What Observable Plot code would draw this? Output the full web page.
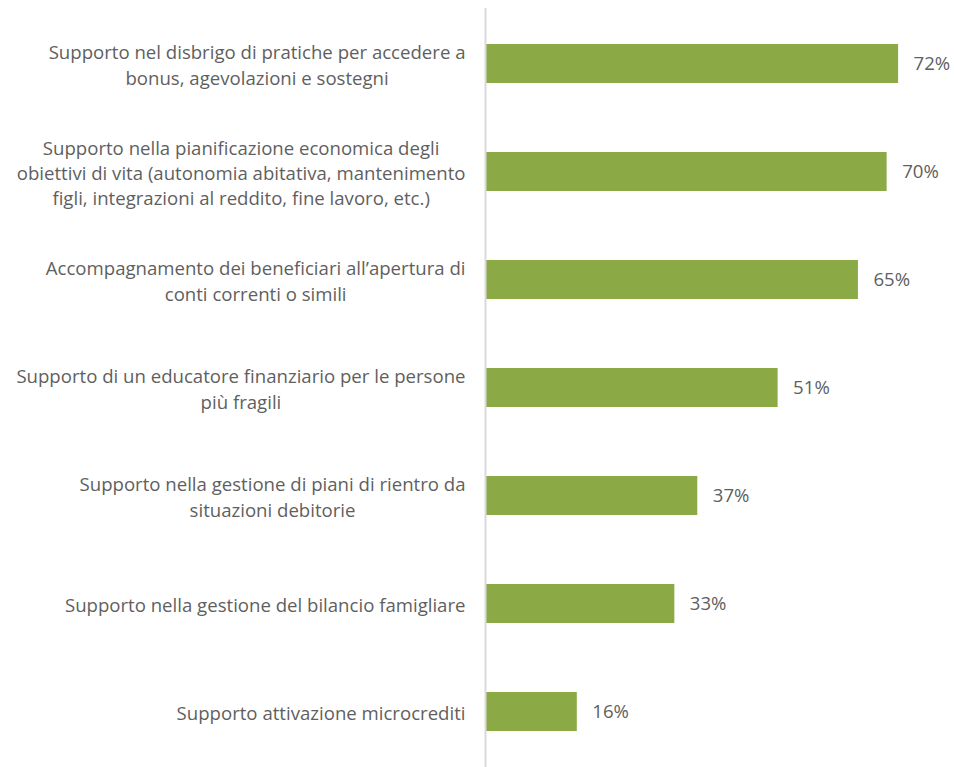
<!DOCTYPE html>
<html>
<head>
<meta charset="utf-8">
<script src="https://cdn.jsdelivr.net/npm/d3@7"></script>
<script src="https://cdn.jsdelivr.net/npm/@observablehq/plot@0.6"></script>
<style>
  html, body { margin: 0; padding: 0; background: #fff; }
  #chart svg { display: block; }
</style>
</head>
<body>
<div id="chart"></div>
<script>
const categories = [
  "Supporto nel disbrigo di pratiche per accedere a\nbonus, agevolazioni e sostegni",
  "Supporto nella pianificazione economica degli\nobiettivi di vita (autonomia abitativa, mantenimento\nfigli, integrazioni al reddito, fine lavoro, etc.)",
  "Accompagnamento dei beneficiari all’apertura di\nconti correnti o simili",
  "Supporto di un educatore finanziario per le persone\npiù fragili",
  "Supporto nella gestione di piani di rientro da\nsituazioni debitorie",
  "Supporto nella gestione del bilancio famigliare",
  "Supporto attivazione microcrediti"
];
const values = [72, 70, 65, 51, 37, 33, 16];

const data = categories.map((c, i) => ({category: c, value: values[i]}));

const FONT = "'Open Sans', sans-serif";
const TEXT = "#5F5F5F";
const FS = 18.6;

const chart = Plot.plot({
  width: 954,
  height: 767,
  marginLeft: 485,
  marginRight: 10,
  marginTop: 8,
  marginBottom: 0,
  style: {fontFamily: FONT, fontSize: FS + "px", color: TEXT, background: "#fff"},
  x: {domain: [0, 80], axis: null},
  y: {domain: categories, paddingInner: 0.64, paddingOuter: 0.32, axis: null},
  marks: [
    Plot.barX(data, {x: "value", y: "category", fill: "#8BAA46"}),
    Plot.ruleX([0], {stroke: "#D9D9D9", strokeWidth: 2}),
    Plot.text(data, {
      x: 0, y: "category", text: "category",
      textAnchor: "end", dx: -20, lineHeight: 1.36,
      fill: TEXT, fontSize: FS, className: "cat-label"
    }),
    Plot.text(data, {
      x: "value", y: "category", text: d => d.value + "%",
      textAnchor: "start", dx: 15, fill: TEXT, fontSize: FS
    })
  ]
});

document.getElementById("chart").appendChild(chart);

// Centre the lines of multi-line labels on their longest line (right edge kept).
chart.querySelectorAll("g.cat-label text").forEach(t => {
  const tspans = t.querySelectorAll("tspan");
  if (tspans.length < 2) return;
  const w = t.getBBox().width;
  t.setAttribute("text-anchor", "middle");
  tspans.forEach(s => s.setAttribute("x", -w / 2));
});
</script>
</body>
</html>
